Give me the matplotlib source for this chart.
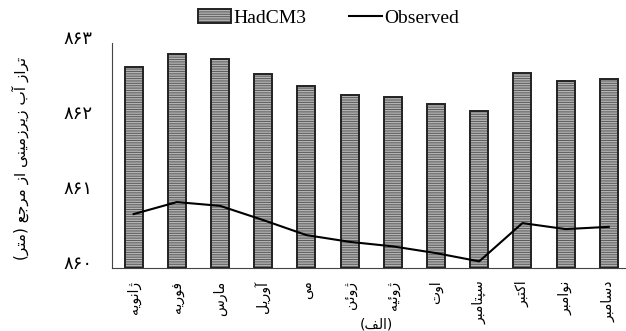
import matplotlib.pyplot as plt
import matplotlib.transforms as mtransforms
import numpy as np
from matplotlib.patches import Patch
from matplotlib.lines import Line2D

plt.rcParams['hatch.linewidth'] = 1.0

# === Data ===
months = ["ژانویه", "فوریه", "مارس", "آوریل", "می", "ژوئن",
          "ژوئیه", "اوت", "سپتامبر", "اکتبر", "نوامبر", "دسامبر"]
hadcm3 = [862.68, 862.85, 862.79, 862.59, 862.43, 862.31,
          862.28, 862.19, 862.09, 862.60, 862.49, 862.52]
observed = [860.72, 860.88, 860.83, 860.64, 860.44, 860.35,
            860.29, 860.20, 860.09, 860.60, 860.52, 860.55]
yticks = [860, 861, 862, 863]
ylabel = "تراز آب زیرزمینی از مرجع (متر)"
panel = "(الف)"

# --- minimal Persian shaping (matplotlib draws glyphs left to right, unjoined) ---
# char -> (isolated, final, initial, medial); two entries = joins on the right only
FORMS = {
    "ا": (0xFE8D, 0xFE8E), "آ": (0xFE81, 0xFE82), "د": (0xFEA9, 0xFEAA),
    "ر": (0xFEAD, 0xFEAE), "ز": (0xFEAF, 0xFEB0), "ژ": (0xFB8A, 0xFB8B),
    "و": (0xFEED, 0xFEEE),
    "ب": (0xFE8F, 0xFE90, 0xFE91, 0xFE92), "پ": (0xFB56, 0xFB57, 0xFB58, 0xFB59),
    "ت": (0xFE95, 0xFE96, 0xFE97, 0xFE98), "ج": (0xFE9D, 0xFE9E, 0xFE9F, 0xFEA0),
    "س": (0xFEB1, 0xFEB2, 0xFEB3, 0xFEB4), "ع": (0xFEC9, 0xFECA, 0xFECB, 0xFECC),
    "ف": (0xFED1, 0xFED2, 0xFED3, 0xFED4), "ک": (0xFB8E, 0xFB8F, 0xFB90, 0xFB91),
    "ل": (0xFEDD, 0xFEDE, 0xFEDF, 0xFEE0), "م": (0xFEE1, 0xFEE2, 0xFEE3, 0xFEE4),
    "ن": (0xFEE5, 0xFEE6, 0xFEE7, 0xFEE8), "ه": (0xFEE9, 0xFEEA, 0xFEEB, 0xFEEC),
    "ی": (0xFBFC, 0xFBFD, 0xFBFE, 0xFBFF), "ئ": (0xFE89, 0xFE8A, 0xFE8B, 0xFE8C),
}


def fa(s):
    out = []
    for i, ch in enumerate(s):
        if ch not in FORMS:
            out.append(ch)
            continue
        f = FORMS[ch]
        prev = s[i - 1] if i > 0 else ""
        nxt = s[i + 1] if i + 1 < len(s) else ""
        jp = prev in FORMS and len(FORMS[prev]) == 4
        jn = len(f) == 4 and nxt in FORMS
        if jp and jn:
            out.append(chr(f[3]))
        elif jp:
            out.append(chr(f[1]))
        elif jn:
            out.append(chr(f[2]))
        else:
            out.append(chr(f[0]))
    vis = "".join(reversed(out))
    return vis.translate(str.maketrans("()", ")("))


def fa_digits(n):
    return str(n).translate(str.maketrans("0123456789", "۰۱۲۳۴۵۶۷۸۹"))


x = np.arange(len(months))
base = 860
bar_face = "#5a5a5a"
bar_hatch = "#b4b4b4"

fig = plt.figure(figsize=(6.26, 3.31), dpi=100)
ax = fig.add_axes([0.179, 0.19, 0.828, 0.68])

heights = np.array(hadcm3) - base
ax.bar(x, heights, width=0.42, bottom=base, color=bar_face,
       edgecolor=bar_hatch, hatch="-------", linewidth=0, zorder=2)
ax.bar(x, heights, width=0.42, bottom=base, fill=False,
       edgecolor="#222222", linewidth=1.4, zorder=3)
ax.plot(x, observed, color="black", linewidth=1.5, zorder=4)

ax.set_xlim(-0.5, len(months) - 0.5)
ax.set_ylim(860, 863)
ax.set_yticks(yticks)
ax.set_yticklabels([fa_digits(v) for v in yticks], fontsize=13)
ax.set_xticks(x)
ax.set_xticklabels([fa(m) for m in months], rotation=90, fontsize=10)
ax.tick_params(axis="y", length=0, pad=14)
ax.tick_params(axis="x", length=0, pad=9)

# y labels sit a little above their gridline
shift = mtransforms.ScaledTranslation(0, 6 / 100, fig.dpi_scale_trans)
for lbl in ax.get_yticklabels():
    lbl.set_transform(lbl.get_transform() + shift)

for s in ["top", "right"]:
    ax.spines[s].set_visible(False)
ax.spines["left"].set_color("#444444")
ax.spines["bottom"].set_color("#444444")

fig.text(0.032, 0.52, fa(ylabel), rotation=90, ha="center", va="center",
         fontsize=11)
fig.text(0.602, 0.0, fa(panel), ha="center", va="bottom", fontsize=10)

# legend
hatch_patch = Patch(facecolor=bar_face, edgecolor=bar_hatch, hatch="-------",
                    linewidth=0)
edge_patch = Patch(fill=False, edgecolor="#222222", linewidth=1.4)
obs_line = Line2D([], [], color="black", linewidth=1.5)
fig.legend([(hatch_patch, edge_patch), obs_line], ["HadCM3", "Observed"],
           loc="upper center", bbox_to_anchor=(0.525, 1.025), ncol=2,
           frameon=False, prop={"family": "Liberation Serif", "size": 14},
           handlelength=1.7, handletextpad=0.1, columnspacing=2.2)

fig.savefig("out.png", dpi=100)
